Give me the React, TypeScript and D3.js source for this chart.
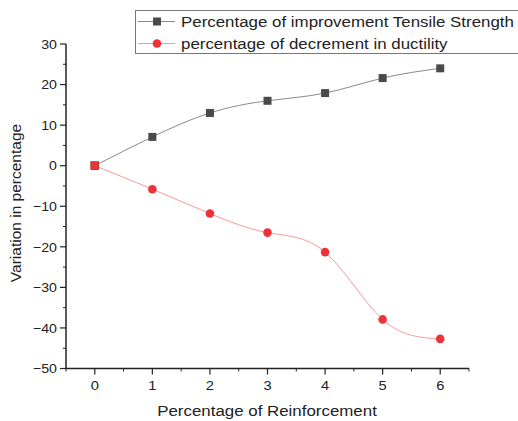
import React from "react";
import * as d3 from "d3";

// Reinforcement levels (%) and the two measured responses (%)
const reinforcement = [0, 1, 2, 3, 4, 5, 6];
const tensileImprovement = [0, 7.1, 13.0, 16.0, 17.9, 21.6, 24.0];
const ductilityDecrement = [0, -5.8, -11.8, -16.5, -21.3, -37.9, -42.7];

const xMajorTicks = [0, 1, 2, 3, 4, 5, 6];
const xMinorTicks = [-0.5, 0.5, 1.5, 2.5, 3.5, 4.5, 5.5, 6.5];
const yMajorTicks = [30, 20, 10, 0, -10, -20, -30, -40, -50];
const yMinorTicks = [25, 15, 5, -5, -15, -25, -35, -45];

const seriesNames = [
  "Percentage of improvement Tensile Strength",
  "percentage of decrement in ductility",
];

const W = 518;
const H = 421;
const FONT = "'Liberation Sans', Arial, sans-serif";
const SX = 1.09; // horizontal glyph stretch

type TProps = {
  x: number;
  y: number;
  size: number;
  anchor?: "start" | "middle" | "end";
  dy?: string;
  children: React.ReactNode;
};

function Label({ x, y, size, anchor = "start", dy, children }: TProps) {
  return (
    <text
      transform={`translate(${x},${y}) scale(${SX},1)`}
      fontSize={size}
      textAnchor={anchor}
      dy={dy}
      fill="#222"
    >
      {children}
    </text>
  );
}

export default function App() {
  const x = d3.scaleLinear().domain([-0.5, 6.5]).range([66, 469]);
  const y = d3.scaleLinear().domain([-50, 30]).range([368.5, 44]);

  const line = d3
    .line<[number, number]>()
    .x((d) => x(d[0]))
    .y((d) => y(d[1]))
    .curve(d3.curveNatural);

  const tensilePts = reinforcement.map((r, i) => [r, tensileImprovement[i]] as [number, number]);
  const ductilityPts = reinforcement.map((r, i) => [r, ductilityDecrement[i]] as [number, number]);

  const fmt = (v: number) => (v < 0 ? "\u2212" + Math.abs(v) : String(v));
  const axisColor = "#222";
  const gray = "#4a4a4a";
  const red = "#ee3338";
  const redLine = "#f59a9a";

  return (
    <svg
      width={W}
      height={H}
      style={{ position: "absolute", left: 0, top: 0, background: "#fff" }}
      fontFamily={FONT}
    >
      {/* series lines */}
      <path d={line(tensilePts) || ""} fill="none" stroke="#8a8a8a" strokeWidth={1} />
      <path d={line(ductilityPts) || ""} fill="none" stroke={redLine} strokeWidth={1} />

      {/* markers */}
      {tensilePts.map(([a, b], i) => (
        <rect key={"t" + i} x={x(a) - 4} y={y(b) - 4} width={8} height={8} fill={gray} />
      ))}
      {ductilityPts.map(([a, b], i) =>
        a === 0 ? (
          <rect key={"d" + i} x={x(a) - 4} y={y(b) - 4} width={8} height={8} fill={red} stroke="#8a3a3a" strokeWidth={0.5} />
        ) : (
          <circle key={"d" + i} cx={x(a)} cy={y(b)} r={4.3} fill={red} />
        )
      )}

      {/* y axis */}
      <line x1={66} x2={66} y1={y(30)} y2={y(-50)} stroke={axisColor} strokeWidth={1.5} />
      {yMajorTicks.map((t) => (
        <g key={"ym" + t}>
          <line x1={60} x2={66} y1={y(t)} y2={y(t)} stroke={axisColor} strokeWidth={1.2} />
          <Label x={57} y={y(t)} size={13} anchor="end" dy="0.36em">
            {fmt(t)}
          </Label>
        </g>
      ))}
      {yMinorTicks.map((t) => (
        <line key={"yn" + t} x1={63} x2={66} y1={y(t)} y2={y(t)} stroke={axisColor} strokeWidth={1} />
      ))}

      {/* x axis */}
      <line x1={66} x2={469} y1={368.5} y2={368.5} stroke={axisColor} strokeWidth={1.5} />
      {xMajorTicks.map((t) => (
        <g key={"xm" + t}>
          <line x1={x(t)} x2={x(t)} y1={368.5} y2={374.5} stroke={axisColor} strokeWidth={1.2} />
          <Label x={x(t)} y={390} size={13.5} anchor="middle">
            {t}
          </Label>
        </g>
      ))}
      {xMinorTicks.map((t) => (
        <line key={"xn" + t} x1={x(t)} x2={x(t)} y1={368.5} y2={371.5} stroke={axisColor} strokeWidth={1} />
      ))}

      {/* axis titles */}
      <Label x={267} y={416} size={15.5} anchor="middle">
        Percentage of Reinforcement
      </Label>
      <text
        transform={`translate(21,203) rotate(-90)`}
        textAnchor="middle"
        fontSize={15.5}
        fill="#222"
      >
        Variation in percentage
      </text>

      {/* legend */}
      <rect x={135.5} y={10.5} width={390} height={43} fill="#fff" stroke="#777" strokeWidth={1} />
      <line x1={138} x2={175} y1={21.5} y2={21.5} stroke="#8a8a8a" strokeWidth={1} />
      <rect x={153} y={17.5} width={8} height={8} fill={gray} />
      <Label x={181} y={27} size={15.5}>
        {seriesNames[0]}
      </Label>
      <line x1={138} x2={175} y1={43.5} y2={43.5} stroke={redLine} strokeWidth={1} />
      <circle cx={157} cy={43.5} r={4.3} fill={red} />
      <Label x={181} y={49} size={15.5}>
        {seriesNames[1]}
      </Label>
    </svg>
  );
}
